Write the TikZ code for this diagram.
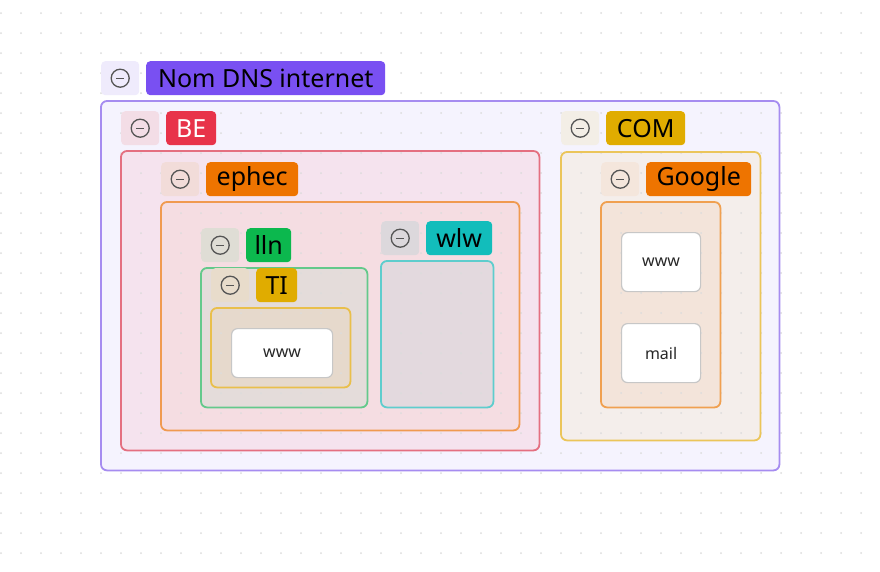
\documentclass[tikz,border=0pt]{standalone}
\usepackage{fontspec}
\setmainfont{Noto Sans}
\definecolor{cPurple}{HTML}{7950F2}
\definecolor{cRed}{HTML}{E8334A}
\definecolor{cOrange}{HTML}{EE7400}
\definecolor{cGreen}{HTML}{0CB84E}
\definecolor{cGold}{HTML}{E0AC00}
\definecolor{cTeal}{HTML}{12BDBB}
\definecolor{bOuter}{HTML}{A68CF0}
\definecolor{bBE}{HTML}{E46F80}
\definecolor{bEphec}{HTML}{F09A50}
\definecolor{bLln}{HTML}{63C98B}
\definecolor{bTI}{HTML}{E9BF4B}
\definecolor{bWlw}{HTML}{5ECDCD}
\definecolor{bCOM}{HTML}{EBC55A}
\definecolor{bGoogle}{HTML}{F0A050}
\definecolor{fOuter}{HTML}{F5F3FE}
\definecolor{fBE}{HTML}{F5E3EE}
\definecolor{fEphec}{HTML}{F5DDE2}
\definecolor{fLln}{HTML}{E4DCDA}
\definecolor{fTI}{HTML}{E6D9CC}
\definecolor{fWlw}{HTML}{E3D9DE}
\definecolor{fCOM}{HTML}{F4EEEB}
\definecolor{fGoogle}{HTML}{F3E4DA}
\definecolor{iOuter}{HTML}{EFEBFC}
\definecolor{iBE}{HTML}{F3DDE6}
\definecolor{iEphec}{HTML}{F2DCD9}
\definecolor{iLln}{HTML}{DFDDD5}
\definecolor{iTI}{HTML}{E8DCCB}
\definecolor{iWlw}{HTML}{DCD8DC}
\definecolor{iCOM}{HTML}{F3EEE6}
\definecolor{iGoogle}{HTML}{F4E6DC}
\definecolor{dotc}{HTML}{DCDCDC}
\definecolor{iconc}{HTML}{555555}
\tikzset{
  area/.style={fill=#1, draw=none, rounded corners=6pt, inner sep=0pt, anchor=north west},
  rim/.style={draw=#1, line width=1.8pt, rounded corners=6pt},
  iconbox/.style={fill=#1, rounded corners=4pt, inner sep=0pt, minimum width=38pt, minimum height=34pt, anchor=north west},
  tag/.style={fill=#1, rounded corners=4pt, inner sep=0pt, minimum height=34pt, anchor=north west, font=\fontsize{25}{28}\selectfont, text=black},
  leaf/.style={fill=white, draw=black!22, line width=1.2pt, rounded corners=6pt, inner sep=0pt, anchor=north west, font=\fontsize{16}{19}\selectfont, text=black!85},
  minusicon/.style={draw=iconc, line width=1.3pt, circle, minimum size=18pt, inner sep=0pt}
}
\newcommand\collapsed[1]{\node[minusicon] (#1c) at (#1.center) {}; \draw[iconc, line width=1.3pt] ([xshift=-4pt]#1c.center) -- ([xshift=4pt]#1c.center);}
\begin{document}
\begin{tikzpicture}[x=1pt,y=-1pt]
\useasboundingbox (0,0) rectangle (880,571);
\fill[white] (0,0) rectangle (880,571);
% container fills
\node[area=fOuter, minimum width=678pt, minimum height=369pt] (outer) at (101,101) {};
\node[area=fBE, minimum width=418pt, minimum height=299pt] (be) at (121,151) {};
\node[area=fEphec, minimum width=358pt, minimum height=228pt] (ephec) at (161,202) {};
\node[area=fLln, minimum width=166pt, minimum height=139pt] (lln) at (201,268) {};
\node[area=fTI, minimum width=139pt, minimum height=79pt] (ti) at (211,308) {};
\node[area=fWlw, minimum width=112pt, minimum height=146pt] (wlw) at (381,261) {};
\node[area=fCOM, minimum width=199pt, minimum height=288pt] (com) at (561,152) {};
\node[area=fGoogle, minimum width=119pt, minimum height=205pt] (google) at (601,202) {};
% dot grid
\foreach \gx in {1,21,...,881} {\foreach \gy in {13,33,...,573} {\fill[dotc] (\gx,\gy) circle (1pt);}}
% container rims
\draw[rim=bOuter] (outer.north west) rectangle (outer.south east);
\draw[rim=bBE] (be.north west) rectangle (be.south east);
\draw[rim=bEphec] (ephec.north west) rectangle (ephec.south east);
\draw[rim=bLln] (lln.north west) rectangle (lln.south east);
\draw[rim=bTI] (ti.north west) rectangle (ti.south east);
\draw[rim=bWlw] (wlw.north west) rectangle (wlw.south east);
\draw[rim=bCOM] (com.north west) rectangle (com.south east);
\draw[rim=bGoogle] (google.north west) rectangle (google.south east);
% headers
\node[iconbox=iOuter] (nomi) at (101,61) {}; \collapsed{nomi}
\node[tag=cPurple, minimum width=239pt] (nom) at (146,61) {Nom DNS internet};
\node[iconbox=iBE] (bei) at (121,111) {}; \collapsed{bei}
\node[tag=cRed, minimum width=50pt, text=white] (bet) at (166,111) {BE};
\node[iconbox=iEphec] (ephi) at (161,162) {}; \collapsed{ephi}
\node[tag=cOrange, minimum width=92pt] (epht) at (206,162) {ephec};
\node[iconbox=iLln] (llni) at (201,228) {}; \collapsed{llni}
\node[tag=cGreen, minimum width=45pt] (llnt) at (246,228) {lln};
\node[iconbox=iTI] (tii) at (211,268) {}; \collapsed{tii}
\node[tag=cGold, minimum width=41pt] (tit) at (256,268) {TI};
\node[iconbox=iWlw] (wlwi) at (381,221) {}; \collapsed{wlwi}
\node[tag=cTeal, minimum width=66pt] (wlwt) at (426,221) {wlw};
\node[iconbox=iCOM] (comi) at (561,111) {}; \collapsed{comi}
\node[tag=cGold, minimum width=79pt] (comt) at (606,111) {COM};
\node[iconbox=iGoogle] (gooi) at (601,162) {}; \collapsed{gooi}
\node[tag=cOrange, minimum width=105pt] (goot) at (646,162) {Google};
% leaves
\node[leaf, minimum width=101pt, minimum height=49pt] (www1) at (231,328) {www};
\node[leaf, minimum width=79pt, minimum height=59pt] (www2) at (621,232) {www};
\node[leaf, minimum width=79pt, minimum height=59pt] (mail) at (621,323) {mail};
\end{tikzpicture}
\end{document}
